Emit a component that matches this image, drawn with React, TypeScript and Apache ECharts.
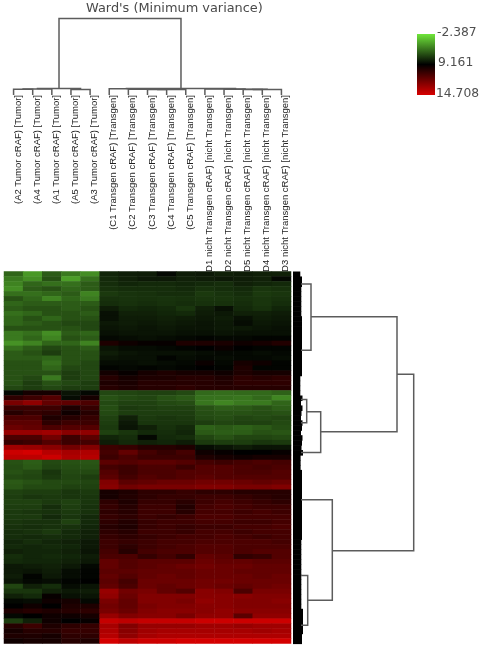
import React, { useEffect, useRef } from "react";
import * as echarts from "echarts";

const titleText = "Ward's (Minimum variance)";
const columnLabels = [
  "(A2 Tumor cRAF) [Tumor]", "(A4 Tumor cRAF) [Tumor]", "(A1 Tumor cRAF) [Tumor]", "(A5 Tumor cRAF) [Tumor]", "(A3 Tumor cRAF) [Tumor]",
  "(C1 Transgen cRAF) [Transgen]", "(C2 Transgen cRAF) [Transgen]", "(C3 Transgen cRAF) [Transgen]", "(C4 Transgen cRAF) [Transgen]", "(C5 Transgen cRAF) [Transgen]",
  "(D1 nicht Transgen cRAF) [nicht Transgen]", "(D2 nicht Transgen cRAF) [nicht Transgen]", "(D5 nicht Transgen cRAF) [nicht Transgen]", "(D4 nicht Transgen cRAF) [nicht Transgen]", "(D3 nicht Transgen cRAF) [nicht Transgen]",
];
const legendLabels = ["-2.387", "9.161", "14.708"];

const topRows = [
  [4,1.5,4.5,3,2,7.2,7.5,7.6,8.6,7.6,7.8,7.4,7.6,7.4,7.4],
  [3,2,5,1.2,3.5,7,7.4,7.8,7.8,7.4,7.6,7.8,7.6,7.4,8.6],
  [2.5,4,3.5,3.5,4.5,6.8,7.2,7,7,7.2,7,6.8,7.4,7.2,7],
  [2,4.5,5,4,4.5,6.6,6.8,6.8,6.8,7,6.6,6.8,7,6.4,6.6],
  [3.5,3.5,4,4.5,2.5,6.2,6.5,6.6,6.8,6.8,6.2,6.5,6.8,6.2,6.4],
  [5,4,2.5,4,3,6.6,6.5,6.6,6.5,6.6,6.4,6.4,6.6,6.4,6.6],
  [4,4.5,4.5,4.5,4.5,6.8,6.6,6.8,6.6,6.8,6.6,6.6,6.8,6.4,6.8],
  [4.5,5,5,4.5,5,7.6,7,7.2,7,6.4,7.4,8.2,7,6.6,7.2],
  [3.5,4,5,5,4.5,8.2,7.4,7.4,7.2,7,7.6,7.8,7.4,7.4,7.6],
  [4,5,4,5,5,8.2,7.6,7.6,7.4,7.6,7.8,7.6,8.2,7.6,7.8],
  [4,4.5,5,5.5,5.5,7.8,7.6,7.8,7.6,7.8,8,7.8,8.4,7.8,8],
  [5,5,5,5,5.5,8,7.8,8,7.8,8,8,7.8,7.8,8,8.2],
  [3,3.5,2,4.5,4,8.2,8,8,8,8.2,8.2,8,8.2,8.2,8.2],
  [3,4,2.5,5,4.5,8.6,8.4,8.2,8.4,8.6,8.8,8.6,8.6,8.8,8.8],
  [1.8,2.5,4,4,2.5,9.8,9.4,9.2,9.2,9.8,9.8,9.7,9.4,9.6,9.9],
  [3.5,4.5,5.5,5,4.5,8,8.4,8.4,8.6,8.8,9,9.3,9,8.8,8.8],
  [4.5,5,6,5,5,7.6,8,8.2,8.2,8.2,8.4,8.6,8.6,8.4,8.6],
  [4.5,4.5,4,5,5,8,8.2,8.2,8.8,8.4,8.6,8.4,8.6,8.6,8.4],
  [5,5,3.5,5,5.5,8.4,8.4,8.2,8.4,8.6,9.3,8.6,9.6,9.4,8.8],
  [5,5,4,5.5,5.5,8.8,8.6,8.8,8.6,8.8,9,8.8,9.8,8.8,8.8],
  [5,5,5,6,5.5,9.5,9.2,9.6,9.8,9.6,9.6,9.4,9.8,9.6,9.6],
  [5,5.5,3,6,5.5,10,9.6,9.8,9.8,10,10,9.8,10.2,10,10.2],
  [5,6,5,5.5,6,9.8,9.7,10,10,10,10,9.9,10.2,10.2,10.2],
  [5.5,6,5.5,6,6,10,9.8,10,10,10.2,10,10,10,10,10],
];
const middleRows = [
  [8.6,9.6,9.6,8,8.6,5.5,5.6,5.8,5.8,5.4,3.8,3.6,3.8,3.8,4.2],
  [10.2,10.6,11.2,8.4,9.6,5,5.4,5.6,5,4.6,3.4,3.4,3.2,3.8,2.4],
  [12.2,12.8,11.6,11.5,11,5.4,5.8,5.8,5.4,5.2,3.2,2.4,3,3,4],
  [10.6,10.6,10.6,9.8,10.4,5.2,6.2,6,5.8,5.8,5,4.4,4.6,5,4.4],
  [10,10.4,10.2,9.4,10,5.4,6,6,6,6,5.2,5,5,5.2,5],
  [11,11,9.8,10,10.4,5.8,7.4,6.2,6.4,6.2,5.4,5.2,5.6,5.4,5.6],
  [11.4,11.4,10.2,10.6,10.6,6,7.8,6.4,6.4,6.4,6,5.6,5.8,5.8,5.4],
  [11.8,11.6,11,11.2,11.2,6.2,8,7.4,6.6,7,4.2,4.6,4.2,4.6,5.2],
  [13,13,13.2,12.6,12.8,5.8,6.4,7,6.8,7.2,4.6,4.4,4.4,5,4.8],
  [11,11,12,10.6,11.4,7.2,6.8,8.6,7,6.8,5.6,5,5.6,5.6,5.4],
  [10.4,10.6,11.2,10.6,10.8,7.6,7,7.4,7.2,7.6,6.2,6,6,6.4,6.2],
  [13.2,13,12.6,12,12.4,10.6,10.4,10,10,9.8,8.4,8,7.6,8,8],
  [14.4,14.6,13.8,13.4,13.6,10.8,11.6,10.8,10.4,10.8,9.4,9.2,9,9,9.2],
  [14,14,14.4,13.6,13.8,10.6,11,10.6,10.6,10.6,9.8,9.6,9.4,9.6,9.6],
];
const bottomRows = [
  [5,4.4,5.4,5,4.8,11.4,11.2,11.4,11.4,11.2,10.8,10.6,10.8,11,10.8],
  [5.2,4.6,5.6,5.2,5,10.8,10.6,11,11,10.6,11.2,11.2,11,10.8,11],
  [5,5.4,6.4,5.4,5.4,11.2,10.6,11,11,11.2,11.2,11.2,11,11,11.2],
  [5.4,5.6,6.2,5.6,6,11.4,10.8,11.2,11,11.2,11.4,11.2,11.2,11.2,11.2],
  [4.6,5,5.4,5.4,5.6,12.4,11.4,11.6,11.8,11.8,12,12,11.8,11.6,11.8],
  [4.8,5.4,5.4,5.8,5.8,12.6,12,12.2,12.2,12.2,12.4,12.4,12.2,12.2,12.4],
  [5.8,6,6,6.4,6.2,9.6,9.8,10.2,10.2,10.4,10.2,10.2,10,10,10],
  [6,6.4,6.2,6.4,6.4,9.6,9.9,10.2,10.4,10.4,10.6,10.6,10.4,10.2,10],
  [5.8,5.8,6.2,5.8,6.4,10.2,9.8,10.4,10.4,10.1,10.6,10.8,10.6,10.4,10.2],
  [6,6,6.8,6,6.6,10.4,10,10.6,10.6,9.9,10.8,11,10.8,10.6,10.6],
  [6.2,6.4,6.6,6.2,6.6,10.2,10,10.6,10.6,10,10.8,10.8,10.6,10.8,10.6],
  [6.2,6.2,7,6.4,7,10.4,10.2,10.6,10.4,10.6,11,11,10.8,10.8,10.8],
  [6.4,6.6,6.6,5.8,7,10.2,9.9,10.4,10.6,10.6,10.8,10.8,10.6,10.6,10.8],
  [6.6,6.8,6.6,6.6,7.2,10,9.8,10.4,10.6,10.4,10.6,10.6,10.8,10.8,11],
  [6.8,6.6,6.2,7,7.4,10.2,10,10.6,10.6,10.4,10.8,10.8,10.6,10.8,10.8],
  [6.8,7,6.8,7,7.4,10.4,10.2,10.4,10.6,10.8,10.8,11,10.8,10.6,10.8],
  [7.2,6.8,7.2,7.4,7.8,10.6,10.4,10.6,10.8,10.8,11,11,11,11,10.8],
  [7,7.2,7,7.2,7.8,10.6,10.2,10.6,10.8,11,11.2,11.2,11,11,11],
  [7.4,7.2,7.2,7.4,8,10.8,10,10.8,11,11,11.2,11.2,11,11.2,11.2],
  [6.8,7.2,7,7.2,7.6,11,11,10.4,10.8,10.3,11.6,11.4,10.3,10.5,11.2],
  [7,7.2,7.2,7.4,7.8,11.6,11.2,11.4,11.4,11.4,11.8,11.6,11.6,11.4,11.4],
  [7.8,7.6,7.4,7.8,8.6,11.6,11.2,11.4,11.6,11.8,12,11.8,11.8,11.6,11.6],
  [7.8,8,7.6,8.4,8.8,11.4,11.4,11.6,11.6,11.6,11.8,11.8,11.6,11.6,11.6],
  [7.6,8.8,7.8,8.4,8.8,11.6,11.2,11.6,11.8,11.6,11.8,11.8,11.8,11.6,11.8],
  [8,8.6,8.4,8.8,9,11.4,10.8,11.8,11.8,11.8,12,12,11.8,11.8,11.8],
  [5.6,7.4,6.8,8.4,8,11.6,11,11.8,11.6,11.8,12,11.8,11.6,11.8,12],
  [6.4,6.4,7.4,7.8,7.6,13,12,12.2,11.6,11.2,12.6,12.4,11,12.2,12.2],
  [7.4,7,9.2,8.2,8,12.8,11.8,12.4,12.4,12.4,12.6,12.6,12.6,12.4,12.4],
  [8.6,8.4,9.4,9.6,8.6,12.2,11.6,12.4,12.4,12.2,12.8,12.6,12.4,12.4,12.6],
  [9,9.4,9,9.8,9.8,12,11.6,12.2,12.4,12.4,12.6,12.6,12.4,12.4,12.4],
  [9.8,10,9.8,10,10.2,12.2,11.8,12.4,12.6,12.6,12.6,12.8,12.6,12.6,12.6],
  [8.6,9,9.4,9.4,9.6,13,12.4,12.6,12.6,12.2,12.8,12.8,11.4,12.8,12.8],
  [6,7.4,9.4,9,9.2,14.2,14,14.2,14.2,14.2,14.4,14.4,14.4,14.4,14.4],
  [10,10.6,9.8,10.2,10.4,13.4,12.4,13,13,13,13.2,13.2,13,13.2,13.2],
  [9.6,10,10,10.4,10.4,13.6,12.6,13.2,13.4,13.4,13.4,13.4,13.4,13.2,13.4],
  [9.8,9.8,9.6,10.2,10.2,13.8,12.8,13.4,13.6,13.6,13.6,13.6,13.6,13.6,13.6],
  [9.4,9.6,9.6,10,9.8,14.6,14,14.4,14.4,14.6,14.6,14.6,14.6,14.6,14.6],
];
const heatRows = [...topRows, ...middleRows, ...bottomRows];

// [merge height, left child col, right child col, left child height, right child height]
const columnMerges = [
  [5.7, 0, 1, 0, 0], [6.1, 0.5, 2, 5.7, 0], [5.5, 3, 4, 0, 0], [6.6, 1.25, 3.5, 6.1, 5.5],
  [5.4, 7, 8, 0, 0], [5.6, 7.5, 9, 5.4, 0], [5.8, 6, 8.25, 0, 5.6], [6.2, 5, 7.1, 0, 5.8],
  [5.4, 12, 13, 0, 0], [5.6, 12.5, 14, 5.4, 0], [5.7, 11, 13.25, 0, 5.6], [6, 10, 12.1, 0, 5.7], [6.4, 5.9, 11.6, 6.2, 6],
  [76.5, 2.375, 8.75, 6.6, 6.4],
];
// [merge depth, upper row, lower row, upper child depth, lower child depth]
const rowMerges = [
  [18, 2.5, 15.9, 8, 8], [13.7, 25.8, 30.5, 8, 8], [27.7, 28.3, 36.5, 13.7, 8], [104, 9.1, 32.3, 18, 27.7],
  [14.7, 61.3, 71.3, 8, 8], [39.3, 46, 66.3, 8, 14.7], [120.7, 20.7, 56.3, 104, 39.3],
];
const rowLeafDepth = [
  7.3,9,9,8.3,8.3,8.3,8.3,8.3,8.3,9,9,9,9,9,9,9,9,9,9,9,9,7.3,7.3,7.3,7.3,9.5,8,9.5,8.5,8,9.5,9,8,9.5,9,8.5,10,7.6,7.6,7.6,
  9,9,9,9,9,9,9,9,9,9,9,9,9,9,8.3,8.3,8.3,8.3,8.3,8.3,8.3,8.3,8.3,8.3,8.3,8.3,8.3,8.3,10,10,10,10,10,9,9,
];

const LINE = "#5c5c5c";

export default function App() {
  const ref = useRef<HTMLDivElement>(null);
  useEffect(() => {
    const chart = echarts.init(ref.current!, undefined, { renderer: "svg" });
    const cells: number[][] = [];
    heatRows.forEach((row, r) => row.forEach((v, c) => cells.push([c, r, v])));
    chart.setOption({
      animation: false,
      backgroundColor: "#fff",
      title: {
        text: titleText, left: 81, top: -4,
        textStyle: { fontFamily: "DejaVu Sans", fontSize: 12.9, fontWeight: "normal", color: "#4a4a4a" },
      },
      grid: [
        { left: 4, top: 271.5, width: 287, height: 372 },
        { left: 4, top: 18.5, width: 287, height: 76.5 },
        { left: 293, top: 271.5, width: 121, height: 372 },
      ],
      xAxis: [
        { type: "category", gridIndex: 0, show: false, data: columnLabels },
        {
          type: "category", gridIndex: 1, position: "bottom", data: columnLabels,
          axisLine: { show: false }, axisTick: { show: false },
          axisLabel: {
            interval: 0, rotate: 90, margin: 0, align: "right", verticalAlign: "top", lineHeight: 7,
            fontFamily: "Liberation Sans", fontSize: 9.5, color: "#222",
          },
        },
        { type: "value", gridIndex: 1, show: false, min: -0.5, max: 14.5 },
        { type: "value", gridIndex: 2, show: false, min: 0, max: 121 },
      ],
      yAxis: [
        { type: "category", gridIndex: 0, show: false, inverse: true, data: heatRows.map((_, i) => String(i)) },
        { type: "value", gridIndex: 1, show: false, min: 0, max: 76.5 },
        { type: "value", gridIndex: 2, show: false, inverse: true, min: 0, max: 75 },
      ],
      visualMap: {
        show: false, seriesIndex: 0, min: -2.387, max: 14.708, dimension: 2,
        inRange: { color: ["#6fe63a", "#37731d", "#000000", "#d80000"] },
      },
      graphic: [
        {
          type: "rect", shape: { x: 417, y: 34, width: 18, height: 61 },
          style: {
            fill: new echarts.graphic.LinearGradient(0, 0, 0, 1, [
              { offset: 0, color: "#6fe63a" }, { offset: 0.5, color: "#000000" }, { offset: 1, color: "#d80000" },
            ]),
          },
        },
        ...legendLabels.map((t, i) => ({
          type: "text", x: [437, 438, 436][i], y: [26, 56, 87][i],
          style: { text: t, fontFamily: "DejaVu Sans", fontSize: 12.3, fill: "#4f4f4f" },
        })),
      ],
      series: [
        {
          type: "heatmap", xAxisIndex: 0, yAxisIndex: 0, data: cells, progressive: 0,
          itemStyle: { borderWidth: 0 }, emphasis: { disabled: true },
        },
        {
          type: "custom", xAxisIndex: 2, yAxisIndex: 1, clip: false, silent: true,
          data: columnMerges,
          encode: { x: [1, 2], y: 0 },
          renderItem: (_: any, api: any) => {
            const [h, a, b, ha, hb] = [0, 1, 2, 3, 4].map((i) => api.value(i));
            return {
              type: "polyline",
              shape: { points: [api.coord([a, ha]), api.coord([a, h]), api.coord([b, h]), api.coord([b, hb])] },
              style: { stroke: LINE, lineWidth: 1.5, fill: "none" },
            };
          },
        },
        {
          type: "custom", xAxisIndex: 3, yAxisIndex: 2, clip: false, silent: true,
          data: rowLeafDepth.map((d, i) => [d, i]),
          encode: { x: 0, y: 1 },
          renderItem: (_: any, api: any) => {
            const d = api.value(0);
            const r = api.value(1);
            const p0 = api.coord([0, r]);
            const p1 = api.coord([d, r + 1]);
            return {
              type: "rect",
              shape: { x: p0[0], y: p0[1], width: p1[0] - p0[0], height: p1[1] - p0[1] + 0.6 },
              style: { fill: "#000" },
            };
          },
        },
        {
          type: "custom", xAxisIndex: 3, yAxisIndex: 2, clip: false, silent: true,
          data: rowMerges,
          encode: { x: 0, y: [1, 2] },
          renderItem: (_: any, api: any) => {
            const [d, a, b, da, db] = [0, 1, 2, 3, 4].map((i) => api.value(i));
            return {
              type: "polyline",
              shape: { points: [api.coord([da, a]), api.coord([d, a]), api.coord([d, b]), api.coord([db, b])] },
              style: { stroke: LINE, lineWidth: 1.5, fill: "none" },
            };
          },
        },
      ],
    });
    return () => chart.dispose();
  }, []);
  return (
    <div
      ref={ref}
      style={{ position: "absolute", left: 0, top: 0, width: 484, height: 649, filter: "blur(0.6px)" }}
    />
  );
}
